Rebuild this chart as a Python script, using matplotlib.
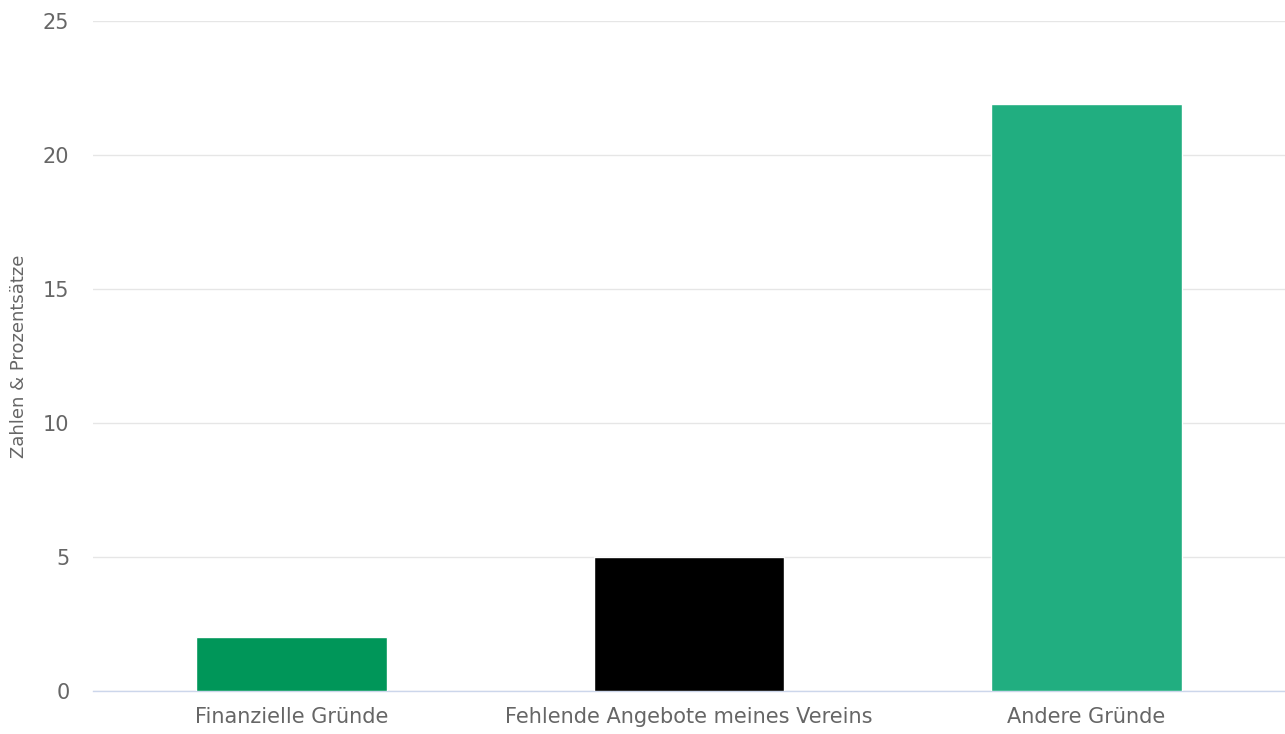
import matplotlib
matplotlib.use("Agg")
import matplotlib.pyplot as plt

# values
categories = ["Finanzielle Gründe", "Fehlende Angebote meines Vereins", "Andere Gründe"]
values = [2, 5, 21.9]
bar_colors = ["#009659", "#000000", "#21ae80"]
y_ticks = [0, 5, 10, 15, 20, 25]

W, H, DPI = 1285, 734, 100
fig = plt.figure(figsize=(W / DPI, H / DPI), dpi=DPI)
ax = fig.add_axes([93 / W, (H - 691) / H, (1285 - 93) / W, (691 - 21) / H])

x = range(len(categories))
ax.bar(x, values, width=0.48, color=bar_colors, edgecolor="white", linewidth=1, zorder=3)

ax.set_xlim(-0.5, len(categories) - 0.5)
ax.set_ylim(0, 25)
ax.set_yticks(y_ticks)
ax.set_yticklabels([str(t) for t in y_ticks])
ax.set_xticks(list(x))
ax.set_xticklabels(categories)

ax.grid(axis="y", color="#e6e6e6", linewidth=1, zorder=0)
for side in ["top", "right", "left"]:
    ax.spines[side].set_visible(False)
ax.spines["bottom"].set_color("#ccd6eb")
ax.spines["bottom"].set_linewidth(1)

ax.tick_params(axis="y", length=0, pad=17, labelsize=15, labelcolor="#666666")
ax.tick_params(axis="x", length=0, pad=11.5, labelsize=15, labelcolor="#666666")

ax.set_ylabel("Zahlen & Prozentsätze", fontsize=13, color="#666666", va="center")
ax.yaxis.set_label_coords(-74 / 1192, 0.5)

fig.savefig("out.png", dpi=DPI)
